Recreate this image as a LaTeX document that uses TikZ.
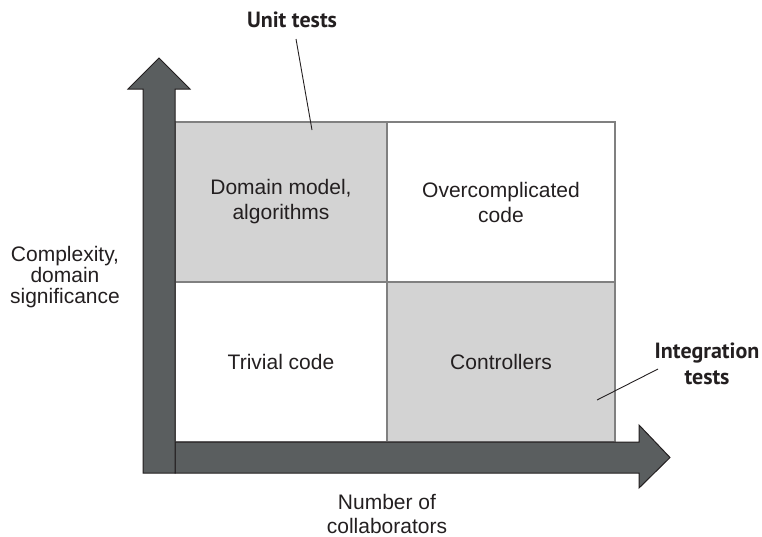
\documentclass[tikz,border=0pt]{standalone}
\usepackage{fontspec}
\setmainfont{Liberation Sans}
\newfontfamily\lblfont{PT Sans}
\definecolor{ink}{HTML}{231F20}
\definecolor{arrowgray}{HTML}{5A5E5F}
\definecolor{cellgray}{HTML}{D3D3D3}
\definecolor{gridline}{HTML}{808080}
\tikzset{
  cellbox/.style={draw=gridline, line width=1.2pt, minimum width=#1, minimum height=160pt, inner sep=0pt, align=center, text=ink, font=\fontsize{21}{25}\selectfont},
  axislabel/.style={align=center, text=ink, inner sep=0pt, font=\fontsize{21}{24}\selectfont},
  boldlabel/.style={align=center, text=ink, inner sep=0pt, font=\lblfont\bfseries\fontsize{22}{26}\selectfont},
  bigarrow/.style={fill=arrowgray, draw=ink, line width=1pt, line join=miter},
  leader/.style={draw=ink, line width=0.9pt}
}
\begin{document}
\begin{tikzpicture}[x=1pt,y=-1pt]
\useasboundingbox (0,0) rectangle (762,536);
% quadrant cells
\node[cellbox=212pt, fill=cellgray] (tl) at (281,202) {Domain model,\\algorithms};
\node[cellbox=228pt] (tr) at (501,202) {Overcomplicated\\code};
\node[cellbox=212pt] (bl) at (281,362) {Trivial code};
\node[cellbox=228pt, fill=cellgray] (br) at (501,362) {Controllers};
% axes arrows
\path[bigarrow] (175,442) -- (639,442) -- (639,425) -- (670,457.5) -- (639,488) -- (639,473) -- (175,473) -- cycle;
\path[bigarrow] (143,473) -- (143,89) -- (128,89) -- (159,58) -- (190,89) -- (175,89) -- (175,473) -- cycle;
% axis labels (anchor=base is the baseline of the last line)
\node[axislabel, font=\fontsize{21}{21}\selectfont, anchor=base] (ylab) at (65,303) {Complexity,\\domain\\significance};
\node[axislabel, anchor=base] (xlab) at (387,533) {Number of\\collaborators};
% callouts
\node[boldlabel, anchor=base] (unit) at (292,27) {Unit tests};
\node[boldlabel, anchor=base] (integ) at (707,384) {Integration\\tests};
\coordinate (unitA) at (296,39);
\coordinate (unitB) at (312,130);
\coordinate (integA) at (658,369);
\coordinate (integB) at (597,400);
\draw[leader] (unitA) -- (unitB);
\draw[leader] (integA) -- (integB);
\end{tikzpicture}
\end{document}
